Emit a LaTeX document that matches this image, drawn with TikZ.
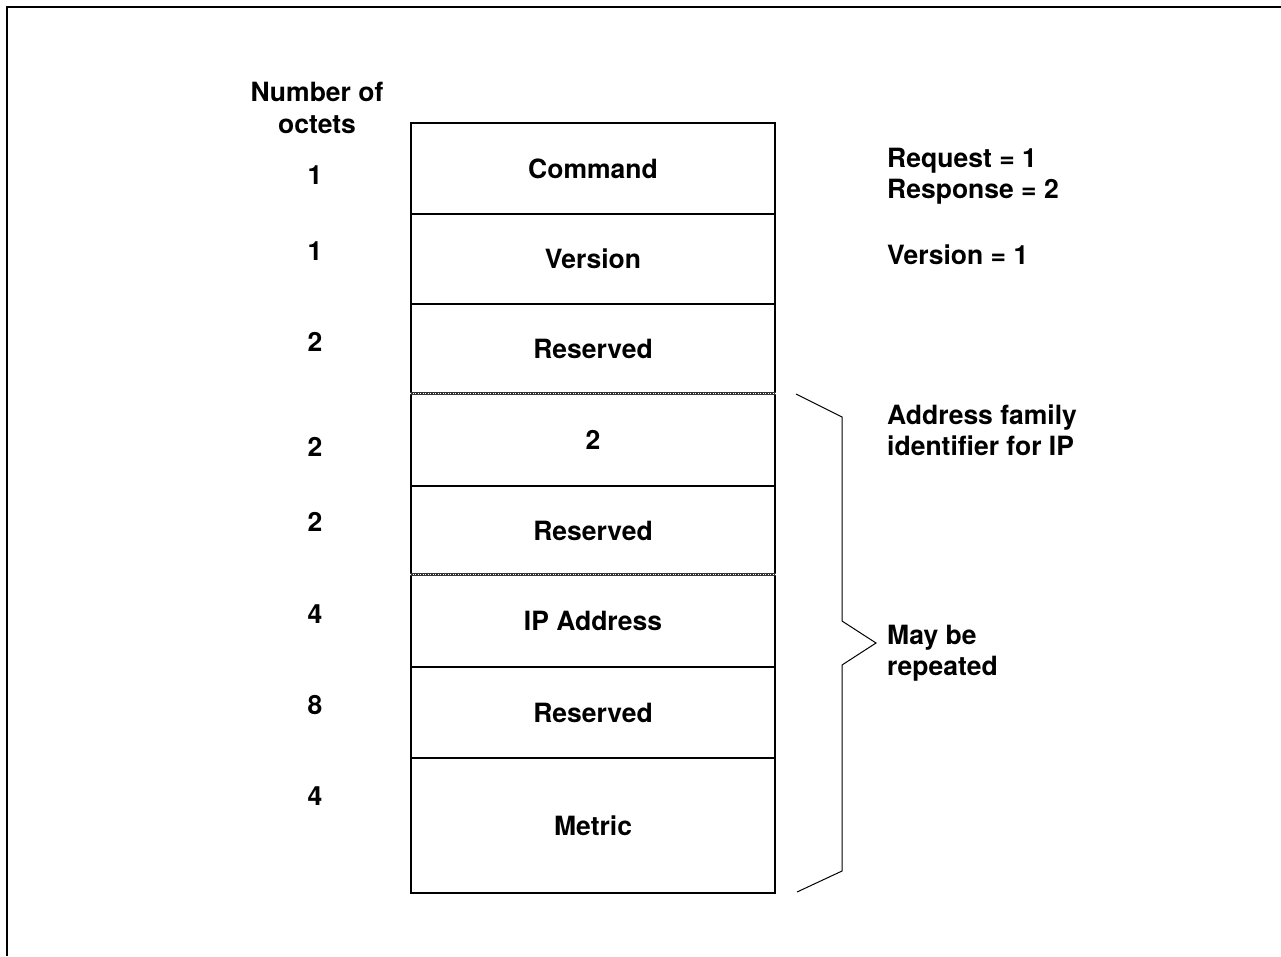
\documentclass[tikz,border=0pt]{standalone}
\usepackage{fontspec}
\setmainfont{TeX Gyre Heros}
\begin{document}
\begin{tikzpicture}[x=1pt,y=-1pt,
  txt/.style={font=\fontsize{26.5}{31.5}\selectfont\bfseries},
  field/.style={draw, line width=2pt, minimum width=364pt, inner sep=0pt, anchor=north west, txt},
  lbl/.style={txt, inner sep=0pt},
  note/.style={txt, inner sep=0pt, anchor=west, align=left},
  sep/.style={line width=3pt, draw=black!80},
  sepdot/.style={line width=1pt, draw=white, dash pattern=on 1pt off 1.5pt},
  brace/.style={line width=1pt}]
\useasboundingbox (0,0) rectangle (1281,956);
\draw[line width=2.2pt] (7,956) -- (7,7) -- (1281,7);

% fields
\node[field, minimum height=91pt] (cmd) at (410,122) {Command};
\node[field, minimum height=90pt] (ver) at (410,213) {Version};
\node[field, minimum height=90pt] (res1) at (410,303) {Reserved};
\node[field, minimum height=92pt] (afi) at (410,393) {2};
\node[field, minimum height=89pt] (res2) at (410,485) {Reserved};
\node[field, minimum height=92pt] (ip) at (410,574) {IP Address};
\node[field, minimum height=91pt] (res3) at (410,666) {Reserved};
\node[field, minimum height=135pt] (metric) at (410,757) {Metric};

% dotted separators
\draw[sep] (afi.north west) -- (afi.north east);
\draw[sepdot] (afi.north west) -- (afi.north east);
\draw[sep] (ip.north west) -- (ip.north east);
\draw[sepdot] (ip.north west) -- (ip.north east);

% octet counts
\node[lbl, align=center] (hdr) at (317,108) {Number of\\octets};
\node[lbl] (n1) at (315,175) {1};
\node[lbl] (n2) at (315,251) {1};
\node[lbl] (n3) at (315,342) {2};
\node[lbl] (n4) at (315,447) {2};
\node[lbl] (n5) at (315,522) {2};
\node[lbl] (n6) at (315,614) {4};
\node[lbl] (n7) at (315,705) {8};
\node[lbl] (n8) at (315,796) {4};

% notes
\node[note] (req) at (887,176) {Request = 1\\Response = 2};
\node[note] (vnote) at (887,255) {Version = 1};
\node[note] (afnote) at (887,430) {Address family\\identifier for IP};
\node[note] (rep) at (887,653) {May be\\repeated};

% brace
\coordinate (bt) at (796,394);
\coordinate (bt2) at (842,417);
\coordinate (bm1) at (842,621);
\coordinate (btip) at (876,643);
\coordinate (bm2) at (842,665);
\coordinate (bb2) at (842,871);
\coordinate (bb) at (797,892);
\draw[brace] (bt) -- (bt2) -- (bm1) -- (btip) -- (bm2) -- (bb2) -- (bb);
\end{tikzpicture}
\end{document}
